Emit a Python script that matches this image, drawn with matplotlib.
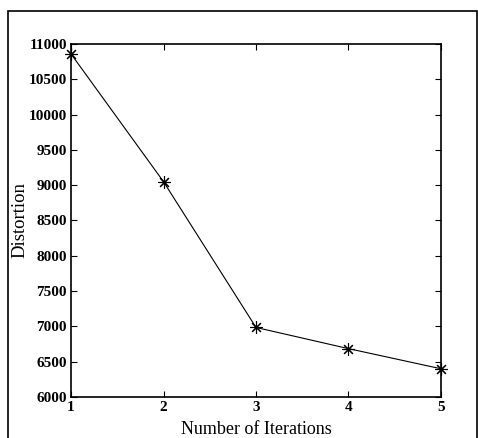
import matplotlib.pyplot as plt
from matplotlib.patches import Rectangle

iterations = [1, 2, 3, 4, 5]
distortion = [10860, 9050, 6985, 6685, 6400]

plt.rcParams['font.family'] = ['Liberation Serif', 'DejaVu Serif']

fig = plt.figure(figsize=(4.78, 4.38), dpi=100)

# outer frame like the exported figure border
fig.patches.append(Rectangle((8 / 478, -0.05), (477 - 8) / 478, (438 - 11) / 438 + 0.05,
                             transform=fig.transFigure, fill=False,
                             edgecolor='black', linewidth=1.2))

ax = fig.add_axes([71 / 478, 41 / 438, 370 / 478, 353 / 438])
ax.plot(iterations, distortion, '-', color='black', linewidth=0.8,
        marker=(8, 2, 0), markersize=9, markeredgewidth=0.8, clip_on=False)

ax.set_xlim(1, 5)
ax.set_ylim(6000, 11000)
ax.set_xticks(iterations)
ax.set_yticks(range(6000, 11001, 500))
ax.tick_params(direction='in', top=True, right=True, length=4, width=0.8,
               labelsize=11, pad=3)
for lab in ax.get_xticklabels() + ax.get_yticklabels():
    lab.set_fontweight('bold')
for s in ax.spines.values():
    s.set_linewidth(1.2)

ax.set_xlabel('Number of Iterations', fontsize=13, labelpad=5)
ax.set_ylabel('Distortion', fontsize=13.5)
ax.yaxis.set_label_coords(-0.115, 0.5)

fig.savefig('out.png', dpi=100)
